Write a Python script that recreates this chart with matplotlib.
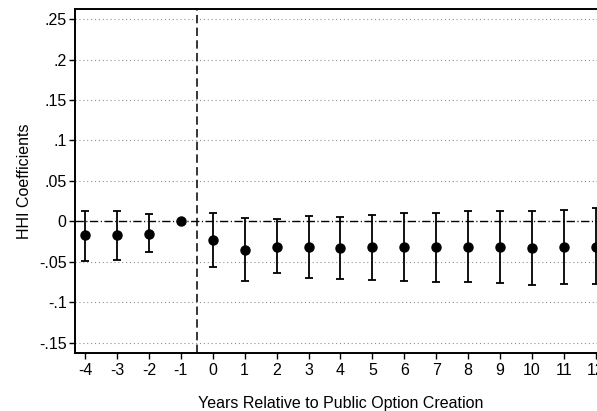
import matplotlib
matplotlib.use("Agg")
import matplotlib.pyplot as plt

plt.rcParams['font.family'] = ['Liberation Sans', 'DejaVu Sans']

years = [-4, -3, -2, -1, 0, 1, 2, 3, 4, 5, 6, 7, 8, 9, 10, 11, 12]
coef = [-0.017, -0.017, -0.015, 0.0, -0.0225, -0.035, -0.031, -0.032, -0.033,
        -0.032, -0.032, -0.032, -0.031, -0.032, -0.033, -0.032, -0.031]
ci_hi = [0.0135, 0.013, 0.009, 0.0, 0.011, 0.0037, 0.0025, 0.0065, 0.0057,
         0.008, 0.010, 0.010, 0.0127, 0.0127, 0.0127, 0.0143, 0.016]
ci_lo = [-0.049, -0.048, -0.038, 0.0, -0.056, -0.0735, -0.064, -0.070, -0.071,
         -0.072, -0.073, -0.075, -0.075, -0.076, -0.078, -0.0775, -0.0775]
yticks = [-0.15, -0.1, -0.05, 0, 0.05, 0.1, 0.15, 0.2, 0.25]
ytick_labels = ['-.15', '-.1', '-.05', '0', '.05', '.1', '.15', '.2', '.25']

W, H = 597, 411
fig = plt.figure(figsize=(W / 100, H / 100), dpi=100)
x_left, x_right = -4.313, 12.313
px_per_unit = (596 - 85) / 16.0
ax_w = (x_right - x_left) * px_per_unit / W
ax = fig.add_axes([75 / W, (H - 353) / H, ax_w, (353 - 9) / H])

ax.set_xlim(x_left, x_right)
ax.set_ylim(-0.1625, 0.2624)

for yt in yticks:
    if yt != 0:
        ax.axhline(yt, color='#909090', linestyle=(0, (1, 2.5)), linewidth=0.8, zorder=0)
ax.axhline(0, color='black', linestyle=(0, (6, 1.8, 0.8, 1.8)), linewidth=1.0, zorder=1)
ax.axvline(-0.5, color='black', linestyle=(0, (5.5, 2.8)), linewidth=1.1, zorder=1)

# Confidence intervals around each point estimate
for x, c, lo, hi in zip(years, coef, ci_lo, ci_hi):
    if hi != lo:
        ax.errorbar([x], [c], yerr=[[c - lo], [hi - c]], fmt='none',
                    ecolor='black', elinewidth=1.3, capsize=3, capthick=1.3, zorder=2)
ax.plot(years, coef, 'o', color='black', markersize=6.5, zorder=3)

ax.set_xticks(years)
ax.set_xticklabels([str(y) for y in years])
ax.set_yticks(yticks)
ax.set_yticklabels(ytick_labels)
ax.tick_params(axis='both', direction='out', length=4, width=1.0, labelsize=11.5, colors='black')
ax.tick_params(axis='x', pad=3)
ax.tick_params(axis='y', pad=2)

for side in ['left', 'bottom', 'top', 'right']:
    ax.spines[side].set_linewidth(1.4)
    ax.spines[side].set_color('black')

ax.set_ylabel('HHI Coefficients', fontsize=11.5, labelpad=5)
ax.set_xlabel('Years Relative to Public Option Creation', fontsize=11.5, labelpad=13)

fig.savefig('out.png', dpi=100)
